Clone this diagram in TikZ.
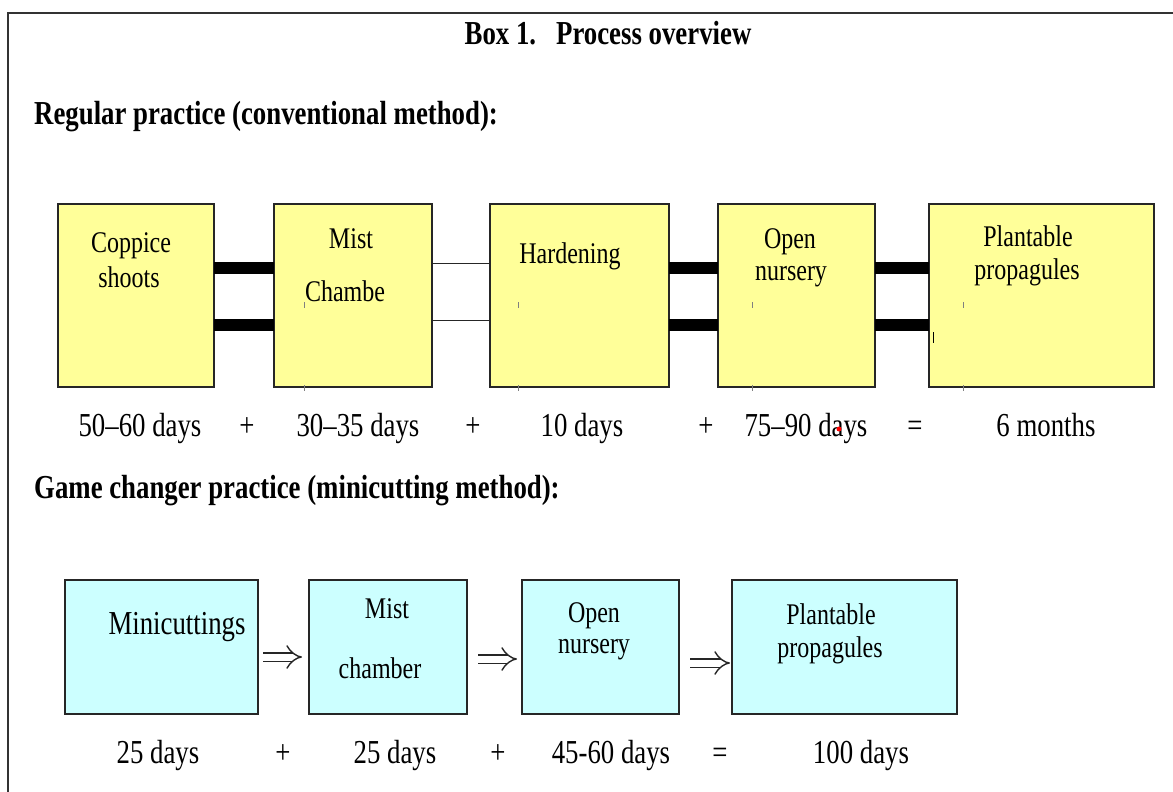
\documentclass[tikz,border=0pt]{standalone}
\usepackage{fontspec}
\setmainfont{Liberation Serif}[FakeStretch=0.8]
\usetikzlibrary{arrows.meta}
\definecolor{boxyellow}{HTML}{FFFF99}
\definecolor{boxcyan}{HTML}{CCFFFF}
\tikzset{
  ybox/.style={draw=black!85, line width=1.3pt, fill=boxyellow, inner sep=0pt, outer sep=0pt},
  cbox/.style={draw=black!85, line width=1.3pt, fill=boxcyan, inner sep=0pt, outer sep=0pt},
  lbl/.style={anchor=base, inner sep=0pt, font=\fontsize{30}{30}\selectfont},
  dur/.style={anchor=base, inner sep=0pt, font=\fontsize{33.5}{33.5}\selectfont},
  head/.style={anchor=base west, inner sep=0pt, font=\fontsize{33.5}{33.5}\selectfont\bfseries},
  bar/.style={line width=12pt},
  thinline/.style={line width=1pt, black!85},
  dbl/.style={double, double distance=7pt, line width=1.4pt, -{Implies}, black!85},
  tickmark/.style={line width=0.9pt, black!50}
}
\begin{document}
\begin{tikzpicture}[x=1pt,y=-1pt]
\useasboundingbox (0,0) rectangle (1173,792);
\clip (0,0) rectangle (1173,792);
\fill[white] (0,0) rectangle (1173,792);
\draw[line width=2pt, black!80] (8,13) rectangle (1200,830);

% headings
\node[anchor=base, inner sep=0pt, font=\fontsize{33.5}{33.5}\selectfont\bfseries] (title) at (608,45) {Box 1.\hspace{20pt}Process overview};
\node[head] (reg) at (34,124) {Regular practice (conventional method):};
\node[head] (game) at (34,498) {Game changer practice (minicutting method):};

% top boxes
\node[ybox, minimum width=156pt, minimum height=183pt] (t1) at (136,295.5) {};
\node[ybox, minimum width=158pt, minimum height=183pt] (t2) at (353,295.5) {};
\node[ybox, minimum width=179pt, minimum height=183pt] (t3) at (579.5,295.5) {};
\node[ybox, minimum width=157pt, minimum height=183pt] (t4) at (796.5,295.5) {};
\node[ybox, minimum width=225pt, minimum height=183pt] (t5) at (1041.5,295.5) {};

% connectors top
\coordinate (ya) at (0,268);
\coordinate (yb) at (0,325);
\coordinate (yc) at (0,263);
\coordinate (yd) at (0,320);
\draw[bar] (t1.east |- ya) -- (t2.west |- ya);
\draw[bar] (t1.east |- yb) -- (t2.west |- yb);
\draw[thinline] (t2.east |- yc) -- (t3.west |- yc);
\draw[thinline] (t2.east |- yd) -- (t3.west |- yd);
\draw[bar] (t3.east |- ya) -- (t4.west |- ya);
\draw[bar] (t3.east |- yb) -- (t4.west |- yb);
\draw[bar] (t4.east |- ya) -- (t5.west |- ya);
\draw[bar] (t4.east |- yb) -- (t5.west |- yb);

% top box texts
\node[lbl] (t1a) at (131,252) {Coppice};
\node[lbl] (t1b) at (129,287) {shoots};
\node[lbl] (t2a) at (351,248) {Mist};
\node[lbl] (t2b) at (345,301) {Chambe};
\node[lbl] (t3a) at (570,263) {Hardening};
\node[lbl] (t4a) at (790,248) {Open};
\node[lbl] (t4b) at (791,280) {nursery};
\node[lbl] (t5a) at (1028,246) {Plantable};
\node[lbl] (t5b) at (1027,279) {propagules};

% tick artefacts
\foreach \x in {304,518,752,963} {
  \draw[tickmark] (\x,302) -- (\x,308);
  \draw[tickmark] (\x,385) -- (\x,391);
}
\draw[line width=1pt, black] (933,332) -- (933,343);

% durations top
\node[dur] (d1) at (140,436) {50–60 days};
\node[dur] (d2) at (247,436) {+};
\node[dur] (d3) at (358,436) {30–35 days};
\node[dur] (d4) at (473,436) {+};
\node[dur] (d5) at (582,436) {10 days};
\node[dur] (d6) at (706,436) {+};
\node[dur] (d7) at (806,436) {75–90 days};
\node[dur] (d8) at (915,436) {=};
\node[dur] (d9) at (1046,436) {6 months};
\fill[red] (839,429) circle (2.5);

% bottom boxes
\node[cbox, minimum width=193pt, minimum height=134pt] (m1) at (161.5,647) {};
\node[cbox, minimum width=158pt, minimum height=134pt] (m2) at (388,647) {};
\node[cbox, minimum width=157pt, minimum height=134pt] (m3) at (600.5,647) {};
\node[cbox, minimum width=225pt, minimum height=134pt] (m4) at (844.5,647) {};

\node[dur] (m1a) at (177,634) {Minicuttings};
\node[lbl] (m2a) at (387,618) {Mist};
\node[lbl] (m2b) at (380,678) {chamber};
\node[lbl] (m3a) at (594,622) {Open};
\node[lbl] (m3b) at (594,653) {nursery};
\node[lbl] (m4a) at (831,624) {Plantable};
\node[lbl] (m4b) at (830,657) {propagules};

% bottom arrows
\coordinate (y1) at (0,657);
\coordinate (y2) at (0,659);
\coordinate (y3) at (0,663);
\draw[dbl, shorten <=5pt, shorten >=7pt] (m1.east |- y1) -- (m2.west |- y1);
\draw[dbl, shorten <=11pt, shorten >=5pt] (m2.east |- y2) -- (m3.west |- y2);
\draw[dbl, shorten <=11pt, shorten >=2pt] (m3.east |- y3) -- (m4.west |- y3);

% durations bottom
\node[dur] (e1) at (158,763) {25 days};
\node[dur] (e2) at (283,763) {+};
\node[dur] (e3) at (395,763) {25 days};
\node[dur] (e4) at (498,763) {+};
\node[dur] (e5) at (611,763) {45-60 days};
\node[dur] (e6) at (720,763) {=};
\node[dur] (e7) at (861,763) {100 days};
\end{tikzpicture}
\end{document}
